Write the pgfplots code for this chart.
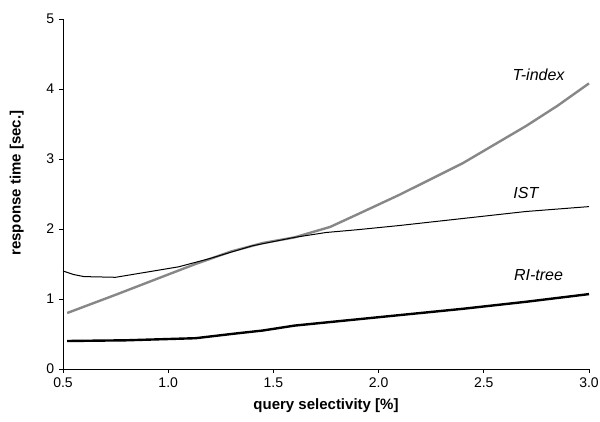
\documentclass[border=0pt]{standalone}
\usepackage{pgfplots}
\pgfplotsset{compat=1.18}
\usepackage{fontspec}
\setmainfont{Liberation Sans}
\definecolor{tgray}{RGB}{135,135,135}
\begin{document}
\fontsize{14}{16}\selectfont
\begin{tikzpicture}
\begin{axis}[
  scale only axis,
  width=526pt, height=350pt,
  xmin=0.5, xmax=3.0, ymin=0, ymax=5,
  axis x line*=bottom, axis y line*=left,
  axis line style={black, line width=0.8pt},
  xtick={0.5,1.0,1.5,2.0,2.5,3.0},
  ytick={0,1,2,3,4,5},
  xticklabel style={/pgf/number format/fixed,/pgf/number format/precision=1,/pgf/number format/fixed zerofill},
  /pgf/number format/assume math mode=true,
  tick align=outside,
  major tick length=4pt,
  tick style={black, line width=0.8pt},
  ticklabel style={font=\fontsize{14}{16}\selectfont},
  xlabel={\textbf{query selectivity [\%]}},
  ylabel={\textbf{response time [sec.]}},
  label style={font=\fontsize{15}{17}\selectfont},
  xlabel style={at={(axis description cs:0.5,-0.106)}, anchor=center},
  ylabel style={at={(axis description cs:-0.088,0.531)}, anchor=center},
  clip=false,
]
\addplot[tgray, line width=2.4pt] coordinates {
(0.52,0.80) (0.75,1.06) (1.0,1.35) (1.13,1.50) (1.3,1.68) (1.45,1.80) (1.6,1.88) (1.77,2.03) (1.9,2.21) (2.0,2.35) (2.1,2.49) (2.4,2.94) (2.7,3.47) (2.85,3.76) (3.0,4.08)
};
\addplot[black, line width=1pt] coordinates {
(0.5,1.40) (0.55,1.35) (0.6,1.32) (0.75,1.31) (0.85,1.36) (0.95,1.41) (1.05,1.46) (1.2,1.58) (1.4,1.76) (1.6,1.88) (1.75,1.95) (1.9,1.99) (2.1,2.05) (2.4,2.15) (2.7,2.25) (3.0,2.32)
};
\addplot[black, line width=2.4pt] coordinates {
(0.52,0.40) (0.8,0.41) (1.13,0.44) (1.3,0.50) (1.45,0.55) (1.6,0.62) (1.8,0.68) (2.1,0.77) (2.4,0.86) (2.7,0.96) (3.0,1.07)
};
\node[font=\itshape\fontsize{16}{18}\selectfont] at (axis cs:2.76,4.2) {T-index};
\node[font=\itshape\fontsize{16}{18}\selectfont] at (axis cs:2.70,2.51) {IST};
\node[font=\itshape\fontsize{16}{18}\selectfont] at (axis cs:2.76,1.34) {RI-tree};
\end{axis}
\pgfresetboundingbox
\path ([xshift=-63pt,yshift=-52pt]current axis.south west) rectangle ([xshift=11pt,yshift=19pt]current axis.north east);
\end{tikzpicture}
\end{document}
